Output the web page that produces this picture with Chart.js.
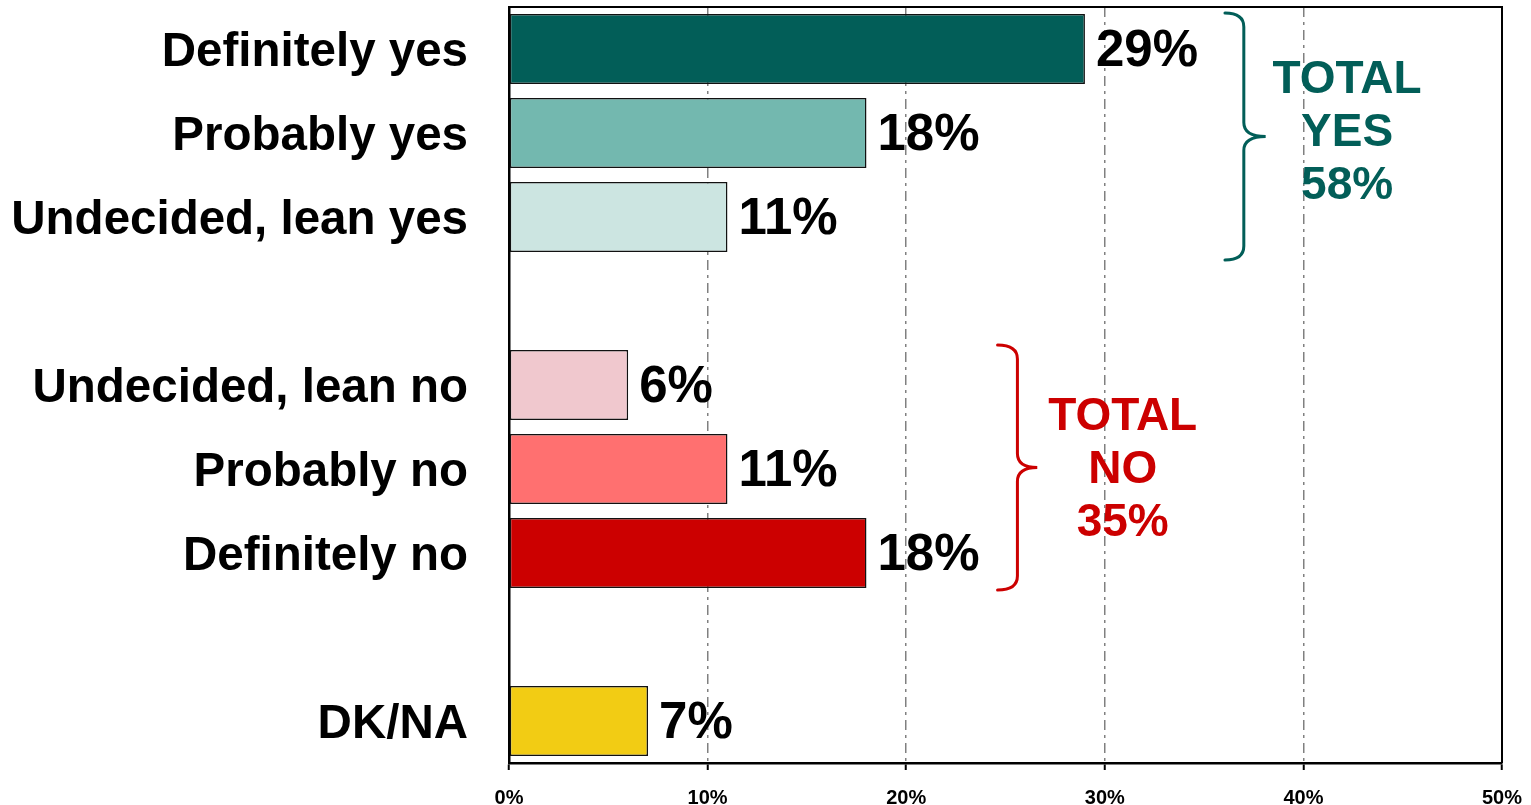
<!DOCTYPE html>
<html>
<head>
<meta charset="utf-8">
<script src="https://cdn.jsdelivr.net/npm/chart.js@4/dist/chart.umd.min.js"></script>
<style>
  html, body { margin: 0; padding: 0; background: #fff; }
  canvas { display: block; }
</style>
</head>
<body>
<canvas id="chart" width="1531" height="805"></canvas>
<script>
// -------------------------
// DATA
// -------------------------
const categories = ['Definitely yes', 'Probably yes', 'Undecided, lean yes', '', 'Undecided, lean no', 'Probably no', 'Definitely no', '', 'DK/NA'];
const values = [29, 18, 11, null, 6, 11, 18, null, 7];
const barColors = ['#025E58', '#73B8AF', '#CCE5E1', '#fff', '#F0C8CE', '#FF7070', '#CC0000', '#fff', '#F2CC14'];
const xTicks = [0, 10, 20, 30, 40, 50];

// bracket labels
const yesLines = ['TOTAL', 'YES', '58%'];
const noLines = ['TOTAL', 'NO', '35%'];

const FONT = "Arial, 'Liberation Sans', sans-serif";

// -------------------------
// Helpers
// -------------------------
function drawBrace(ctx, xLeft, xStem, xTip, yTop, yBot, color) {
  const yMid = (yTop + yBot) / 2;
  const r = 14;
  ctx.save();
  ctx.strokeStyle = color;
  ctx.lineWidth = 3;
  ctx.lineCap = 'round';
  ctx.beginPath();
  ctx.moveTo(xLeft, yTop);
  ctx.quadraticCurveTo(xStem, yTop, xStem, yTop + r);
  ctx.lineTo(xStem, yMid - r);
  ctx.quadraticCurveTo(xStem, yMid, xTip, yMid);
  ctx.quadraticCurveTo(xStem, yMid, xStem, yMid + r);
  ctx.lineTo(xStem, yBot - r);
  ctx.quadraticCurveTo(xStem, yBot, xLeft, yBot);
  ctx.stroke();
  ctx.restore();
}

function drawLines(ctx, lines, x, yMid, color) {
  ctx.save();
  ctx.fillStyle = color;
  ctx.font = 'bold 46px ' + FONT;
  ctx.textAlign = 'center';
  ctx.textBaseline = 'middle';
  const step = 53;
  lines.forEach((t, i) => ctx.fillText(t, x, yMid + (i - (lines.length - 1) / 2) * step));
  ctx.restore();
}

// -------------------------
// Plugins
// -------------------------
const extrasPlugin = {
  id: 'extras',
  afterDatasetsDraw(chart) {
    const ctx = chart.ctx;
    const xs = chart.scales.x, ys = chart.scales.y;
    const area = chart.chartArea;

    // value labels
    const meta = chart.getDatasetMeta(0);
    ctx.save();
    ctx.font = 'bold 51px ' + FONT;
    ctx.fillStyle = '#000';
    ctx.textAlign = 'left';
    ctx.textBaseline = 'middle';
    meta.data.forEach((bar, i) => {
      if (values[i] == null) return;
      ctx.fillText(values[i] + '%', bar.x + 11, bar.y + 3);
    });
    ctx.restore();

    // top and right frame
    ctx.save();
    ctx.strokeStyle = '#000';
    ctx.lineWidth = 2;
    ctx.beginPath();
    ctx.moveTo(area.left, area.top);
    ctx.lineTo(area.right, area.top);
    ctx.lineTo(area.right, area.bottom);
    ctx.stroke();
    ctx.restore();

    // brackets
    drawBrace(ctx, xs.getPixelForValue(36.05), xs.getPixelForValue(37.0), xs.getPixelForValue(38.1),
      ys.getPixelForValue(0) - 36, ys.getPixelForValue(2) + 43, '#025E58');
    drawLines(ctx, yesLines, xs.getPixelForValue(42.2), ys.getPixelForValue(1), '#025E58');

    drawBrace(ctx, xs.getPixelForValue(24.6), xs.getPixelForValue(25.6), xs.getPixelForValue(26.6),
      ys.getPixelForValue(4) - 40, ys.getPixelForValue(6) + 37, '#CC0000');
    drawLines(ctx, noLines, xs.getPixelForValue(30.9), ys.getPixelForValue(5) + 1, '#CC0000');
  }
};

// -------------------------
// Chart
// -------------------------
const ctx = document.getElementById('chart').getContext('2d');
new Chart(ctx, {
  type: 'bar',
  data: {
    labels: categories,
    datasets: [{
      data: values,
      backgroundColor: barColors,
      borderColor: '#111',
      borderWidth: 1.5,
      borderSkipped: false,
      barPercentage: 0.835,
      categoryPercentage: 1
    }]
  },
  options: {
    indexAxis: 'y',
    responsive: false,
    animation: false,
    layout: { padding: { top: 7, right: 29, left: 0, bottom: 0 } },
    plugins: { legend: { display: false }, tooltip: { enabled: false } },
    scales: {
      x: {
        min: 0,
        max: 50,
        afterBuildTicks: s => { s.ticks = xTicks.map(v => ({ value: v })); },
        afterFit: s => { s.height = 42; s.paddingLeft = 0; s.paddingRight = 0; },
        grid: {
          color: '#808080',
          lineWidth: 1.5,
          tickColor: '#000',
          tickLength: 7,
          tickWidth: 2,
          tickBorderDash: []
        },
        border: { color: '#000', width: 2.5, dash: [10, 5, 3, 5] },
        ticks: {
          color: '#000',
          padding: 16,
          font: { family: FONT, size: 20, weight: 'bold' },
          callback: v => v + '%'
        }
      },
      y: {
        afterFit: s => { s.width = 509; s.paddingTop = 0; s.paddingBottom = 0; },
        grid: { display: false },
        border: { color: '#000', width: 2.5 },
        ticks: {
          color: '#000',
          padding: 33,
          labelOffset: 4,
          font: { family: FONT, size: 47.5, weight: 'bold' }
        }
      }
    }
  },
  plugins: [extrasPlugin]
});
</script>
</body>
</html>
